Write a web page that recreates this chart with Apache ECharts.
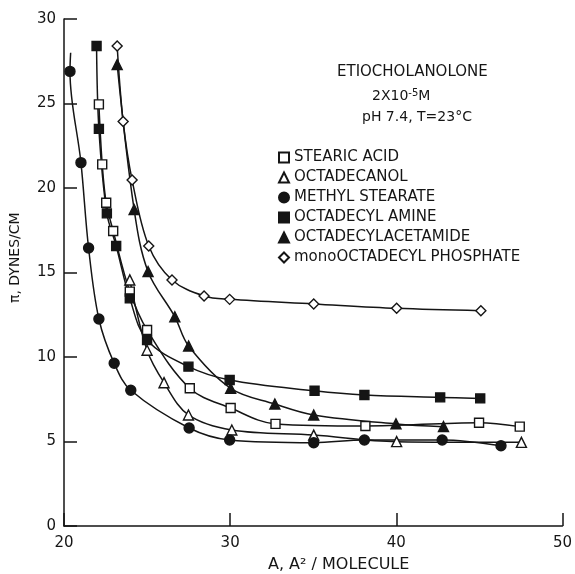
<!DOCTYPE html>
<html>
<head>
<meta charset="utf-8">
<script src="https://cdn.jsdelivr.net/npm/echarts@6/dist/echarts.min.js"></script>
<style>
html,body{margin:0;padding:0;background:#fff;}
#main{width:575px;height:574px;}
</style>
</head>
<body>
<div id="main"></div>
<script>
// A (A^2/molecule), pi (dynes/cm)
var stearicAcid = [[22.1,24.95],[22.3,21.4],[22.54,19.13],[22.96,17.46],[23.96,13.87],[25.0,11.6],[27.57,8.15],[30.03,6.98],[32.73,6.04],[38.14,5.92],[44.98,6.11],[47.43,5.88]];
var octadecanol = [[23.96,14.56],[25.0,10.4],[26.02,8.48],[27.49,6.57],[30.1,5.68],[35.03,5.38],[40.02,4.99],[47.53,4.95]];
var methylStearate = [[20.36,26.9],[21.02,21.5],[21.48,16.45],[22.1,12.25],[23.02,9.63],[24.02,8.03],[27.53,5.8],[29.97,5.09],[35.03,4.93],[38.08,5.09],[42.76,5.09],[46.3,4.75]];
var methylTop = [20.4,28.0]; // curve runs on above the first point
var octadecylAmine = [[21.96,28.4],[22.1,23.5],[22.58,18.5],[23.14,16.57],[23.96,13.47],[25.0,11.0],[27.49,9.43],[29.97,8.64],[35.08,8.0],[38.08,7.75],[42.64,7.61],[45.05,7.55]];
var octadecylAcetamide = [[23.2,27.3],[24.22,18.73],[25.06,15.05],[26.67,12.38],[27.5,10.65],[30.03,8.15],[32.69,7.22],[35.03,6.57],[39.98,6.04],[42.84,5.88]];
var monoPhosphate = [[23.2,28.4],[23.56,23.93],[24.1,20.47],[25.1,16.57],[26.5,14.56],[28.43,13.61],[29.97,13.41],[35.03,13.14],[40.02,12.88],[45.09,12.74]];

var names = ['STEARIC ACID','OCTADECANOL','METHYL STEARATE','OCTADECYL AMINE','OCTADECYLACETAMIDE','monoOCTADECYL PHOSPHATE'];
var symbols = ['rect','triangle','circle','rect','triangle','diamond'];
var hollow = [true,true,false,false,false,true];
var sets = [stearicAcid, octadecanol, methylStearate, octadecylAmine, octadecylAcetamide, monoPhosphate];

var ink = '#151515';
var font = 'DejaVu Sans';

var series = [];
sets.forEach(function (d, i) {
    var curve = d.slice();
    if (i === 2) curve.unshift(methylTop);
    series.push({
        name: 'curve' + i,
        type: 'line',
        data: curve,
        smooth: 0.35,
        showSymbol: false,
        silent: true,
        lineStyle: {color: ink, width: 1.5},
        z: 2
    });
});
sets.forEach(function (d, i) {
    series.push({
        name: names[i],
        type: 'scatter',
        data: d,
        symbol: symbols[i],
        symbolSize: symbols[i] === 'rect' ? 9 : 10,
        itemStyle: {
            color: hollow[i] ? '#fff' : ink,
            borderColor: ink,
            borderWidth: 1.4,
            opacity: 1
        },
        z: 3
    });
});

var myChart = echarts.init(document.getElementById('main'));
var option = {
    animation: false,
    backgroundColor: '#fff',
    grid: {left: 64, right: 12, top: 19, bottom: 48},
    xAxis: {
        type: 'value',
        min: 20, max: 50, interval: 10,
        axisLine: {lineStyle: {color: ink, width: 1.5}},
        axisTick: {inside: true, length: 13, lineStyle: {color: ink, width: 1.5}},
        axisLabel: {color: ink, fontFamily: font, fontSize: 15, margin: 10},
        splitLine: {show: false}
    },
    yAxis: {
        type: 'value',
        min: 0, max: 30, interval: 5,
        axisLine: {show: true, lineStyle: {color: ink, width: 1.5}},
        axisTick: {show: true, inside: true, length: 13, lineStyle: {color: ink, width: 1.5}},
        axisLabel: {color: ink, fontFamily: font, fontSize: 15, margin: 8},
        splitLine: {show: false}
    },
    legend: {
        orient: 'vertical',
        left: 278, top: 150, padding: 0,
        itemWidth: 10, itemHeight: 10, itemGap: 5,
        textStyle: {color: ink, fontFamily: font, fontSize: 15},
        data: names
    },
    graphic: [
        {type: 'text', left: 337, top: 65, style: {text: 'ETIOCHOLANOLONE', fill: ink, font: '15px "DejaVu Sans"'}},
        {type: 'text', left: 372, top: 88, style: {
            text: '2X10{s|-5}M', fill: ink, font: '14px "DejaVu Sans"',
            rich: {s: {fontSize: 10, fontFamily: 'DejaVu Sans', verticalAlign: 'top', padding: [0, 0, 6, 0]}}
        }},
        {type: 'text', left: 362, top: 110, style: {text: 'pH 7.4, T=23\u00B0C', fill: ink, font: '14px "DejaVu Sans"'}},
        {type: 'text', x: 8, y: 303, rotation: Math.PI / 2, style: {text: '\u03C0, DYNES/CM', fill: ink, font: '14px "DejaVu Sans"'}},
        {type: 'text', left: 268, top: 557, style: {text: 'A, A\u00B2 / MOLECULE', fill: ink, font: '16px "DejaVu Sans"'}}
    ],
    series: series
};
myChart.setOption(option);
</script>
</body>
</html>
